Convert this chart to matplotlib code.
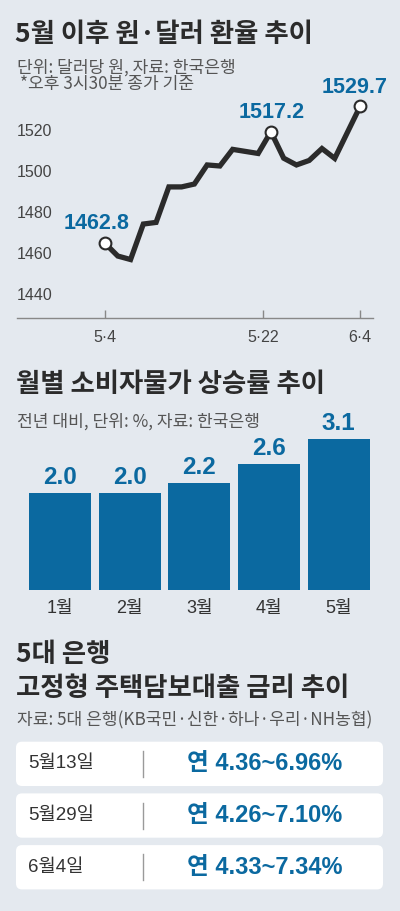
import matplotlib.pyplot as plt
import matplotlib.transforms as mtransforms
from matplotlib.patches import FancyBboxPatch

plt.rcParams['font.family'] = ['Noto Sans CJK KR', 'DejaVu Sans']

# exchange rate (trading-day index, won per dollar)
fx_day = [0, 1, 2, 3, 4, 5, 6, 7, 8, 9, 10, 11, 12, 13, 14, 15, 16, 17, 18, 20]
fx_rate = [1462.8, 1456.6, 1454.9, 1472.2, 1473.0, 1490.3, 1490.3, 1491.7, 1501.0, 1500.5,
           1508.6, 1507.6, 1506.6, 1517.2, 1504.3, 1501.0, 1503.2, 1509.0, 1504.2, 1529.7]
fx_marked = [0, 13, 19]
fx_tick_pos = [0, 12.4, 20]
fx_tick_lbl = ['5·4', '5·22', '6·4']
fx_yticks = [1440, 1460, 1480, 1500, 1520]

# consumer prices
cpi_month = ['1월', '2월', '3월', '4월', '5월']
cpi_rate = [2.0, 2.0, 2.2, 2.6, 3.1]

# mortgage rates
loan_date = ['5월13일', '5월29일', '6월4일']
loan_range = ['연 4.36~6.96%', '연 4.26~7.10%', '연 4.33~7.34%']

BG = '#e4e9ef'
BLUE = '#0b69a0'
DARK = '#2b2b2b'
GRAY = '#555555'
W, H = 400, 911

fig = plt.figure(figsize=(W / 100, H / 100), dpi=100, facecolor=BG)

# background axes in pixel units for text and boxes
bg = fig.add_axes([0, 0, 1, 1])
bg.set_xlim(0, W)
bg.set_ylim(H, 0)
bg.axis('off')


def title(x, y, s):
    bg.text(x, y, s, fontsize=19, fontweight='bold', color=DARK, va='center', ha='left')


def sub(x, y, s):
    bg.text(x, y, s, fontsize=12.3, color=GRAY, va='center', ha='left')


def frame(left, top, right, bottom):
    return [left / W, 1 - bottom / H, (right - left) / W, (bottom - top) / H]


# ---- section 1: exchange rate line
title(15, 34, '5월 이후 원·달러 환율 추이')
sub(17, 67.5, '단위: 달러당 원, 자료: 한국은행')
sub(20, 84.5, '*오후 3시30분 종가 기준')

ax1 = fig.add_axes(frame(17, 95, 373, 318))
ax1.patch.set_alpha(0)
ax1.plot(fx_day, fx_rate, color=DARK, lw=3.8, solid_joinstyle='miter', zorder=3)
ax1.plot([fx_day[i] for i in fx_marked], [fx_rate[i] for i in fx_marked], 'o',
         ms=8.5, mfc='white', mec=DARK, mew=1.5, zorder=4)
offsets = [(-6, 14.6), (0.5, 13.9), (-4.3, 13.5)]
for i, off in zip(fx_marked, offsets):
    ax1.annotate(f'{fx_rate[i]:.1f}', (fx_day[i], fx_rate[i]), xytext=off,
                 textcoords='offset points', ha='center', va='center',
                 fontsize=15.5, fontweight='bold', color=BLUE,
                 family=['Liberation Sans', 'DejaVu Sans'])
ax1.set_xlim(-6.9, 21.0)
ax1.set_ylim(1426.4, 1535.1)
ax1.set_xticks(fx_tick_pos, fx_tick_lbl)
ax1.set_yticks(fx_yticks)
ax1.tick_params(axis='x', direction='in', length=6, width=1, color='#888888',
                pad=9, labelsize=11.5, labelcolor='#444444')
ax1.tick_params(axis='y', length=0, pad=0, labelsize=11.5, labelcolor='#444444')
shift = mtransforms.ScaledTranslation(0, -4 / 100, fig.dpi_scale_trans)
for lbl in ax1.get_yticklabels():
    lbl.set_ha('left')
    lbl.set_family(['Liberation Sans', 'DejaVu Sans'])
    lbl.set_transform(lbl.get_transform() + shift)
for lbl in ax1.get_xticklabels():
    lbl.set_family(['Liberation Sans', 'DejaVu Sans'])
for s in ['top', 'right', 'left']:
    ax1.spines[s].set_visible(False)
ax1.spines['bottom'].set_color('#888888')
ax1.spines['bottom'].set_linewidth(1)

# ---- section 2: CPI bars
title(16, 385, '월별 소비자물가 상승률 추이')
sub(17, 421.5, '전년 대비, 단위: %, 자료: 한국은행')

ax2 = fig.add_axes(frame(25, 430, 373.5, 590))
ax2.patch.set_alpha(0)
bars = ax2.bar(range(len(cpi_month)), cpi_rate, width=0.89, color=BLUE)
for b, v in zip(bars, cpi_rate):
    ax2.annotate(f'{v:.1f}', (b.get_x() + b.get_width() / 2, v), xytext=(0, 11),
                 textcoords='offset points', ha='center', va='center',
                 fontsize=17.5, fontweight='bold', color=BLUE,
                 family=['Liberation Sans', 'DejaVu Sans'])
ax2.set_xlim(-0.5, 4.5)
ax2.set_ylim(0, 3.29)
ax2.set_xticks(range(len(cpi_month)), cpi_month)
ax2.set_yticks([])
ax2.tick_params(axis='x', length=0, pad=7, labelsize=13, labelcolor='#333333')
for lbl in ax2.get_xticklabels():
    lbl.set_family(['Liberation Sans', 'Noto Sans CJK KR'])
for s in ax2.spines.values():
    s.set_visible(False)

# ---- section 3: mortgage table
title(16, 654.5, '5대 은행')
title(16, 689, '고정형 주택담보대출 금리 추이')
sub(17, 720, '자료: 5대 은행(KB국민·신한·하나·우리·NH농협)')

row_top, row_h, row_step = 741.7, 44.3, 51.7
for k, (d, r) in enumerate(zip(loan_date, loan_range)):
    top = row_top + k * row_step
    bg.add_patch(FancyBboxPatch((16, top), 367, row_h,
                                boxstyle='round,pad=0,rounding_size=6',
                                fc='white', ec='none'))
    cy = top + row_h / 2
    bg.plot([143.3, 143.3], [cy - 13, cy + 13], color='#9a9a9a', lw=1)
    bg.text(28, cy, d, fontsize=13.5, color='#333333', va='center', ha='left',
            family=['Liberation Sans', 'Noto Sans CJK KR'])
    bg.text(187, cy, r, fontsize=17, fontweight='bold', color=BLUE, va='center', ha='left',
            family=['Liberation Sans', 'Noto Sans CJK KR'])

fig.savefig('out.png', dpi=100, facecolor=BG)
